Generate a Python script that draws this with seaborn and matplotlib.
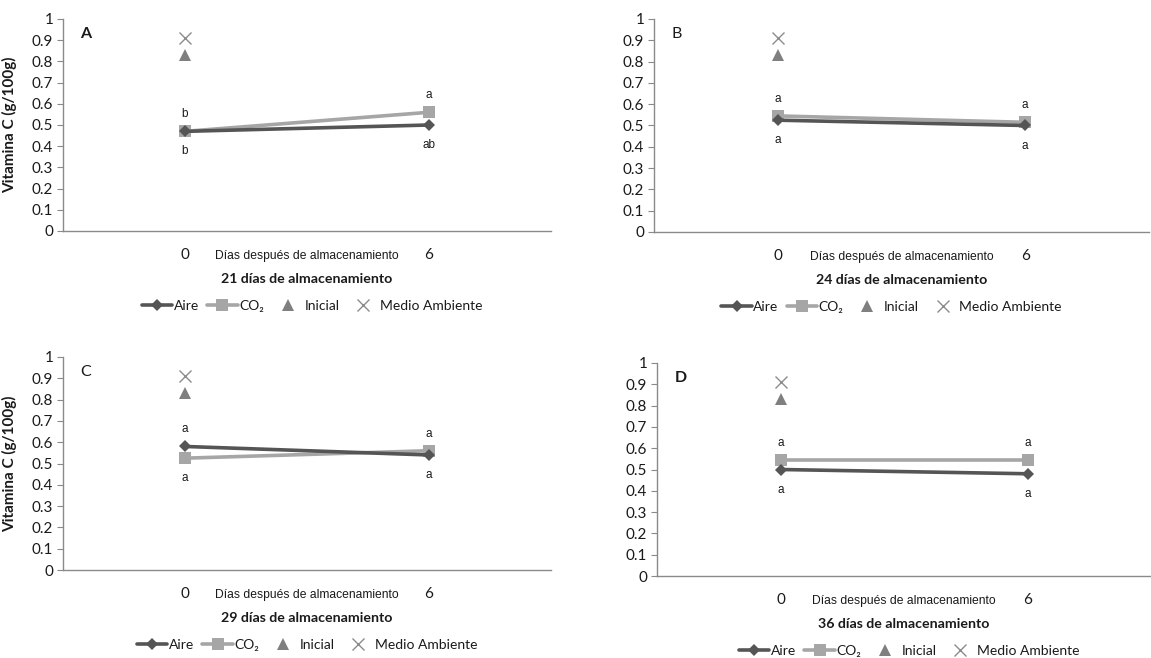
import matplotlib
matplotlib.use("Agg")
import matplotlib.pyplot as plt
from matplotlib.lines import Line2D
import numpy as np
import pandas as pd
import seaborn as sns

# Storage days shown on the categorical x axis
dias = ["0", "6"]

# Vitamin C (g/100g) per panel
paneles = ["A", "B", "C", "D"]
titulos = ["21 días de almacenamiento", "24 días de almacenamiento",
           "29 días de almacenamiento", "36 días de almacenamiento"]
aire = [[0.47, 0.50], [0.525, 0.50], [0.58, 0.54], [0.50, 0.48]]
co2 = [[0.47, 0.56], [0.545, 0.515], [0.525, 0.56], [0.545, 0.545]]
inicial = [0.83, 0.83, 0.83, 0.83]
medio_ambiente = [0.91, 0.91, 0.91, 0.91]

# Significance letters: (upper letter, lower letter) for each day
letras = [
    [("b", "b"), ("a", "ab")],
    [("a", "a"), ("a", "a")],
    [("a", "a"), ("a", "a")],
    [("a", "a"), ("a", "a")],
]

sns.set_style("white")
plt.rcParams["font.family"] = ["Lato", "DejaVu Sans"]

COL_AIRE = "#555555"
COL_CO2 = "#a6a6a6"
COL_INI = "#7f7f7f"
COL_MA = "#8c8c8c"
AXC = "#8a8a8a"
TXT = "#1a1a1a"

fig = plt.figure(figsize=(11.51, 6.58), dpi=100)
W, H = 1151, 658
# axes boxes in pixels: left, top, right, bottom
cajas = [(63, 19, 551, 231), (654, 19, 1149, 232),
         (63, 357, 551, 570), (657, 363, 1151, 576)]
leg_x = [0.51, 0.48, 0.50, 0.51]
negrita = [True, False, False, True]

for i, (l, t, r, b) in enumerate(cajas):
    ax = fig.add_axes([l / W, 1 - b / H, (r - l) / W, (b - t) / H])
    df_aire = pd.DataFrame({"dia": dias, "vitc": aire[i]})
    df_co2 = pd.DataFrame({"dia": dias, "vitc": co2[i]})
    df_ini = pd.DataFrame({"dia": [dias[0]], "vitc": [inicial[i]]})
    df_ma = pd.DataFrame({"dia": [dias[0]], "vitc": [medio_ambiente[i]]})

    sns.pointplot(data=df_aire, x="dia", y="vitc", order=dias, color=COL_AIRE,
                  marker="D", linestyle="-", linewidth=2.6, markersize=6.5,
                  markeredgewidth=0, errorbar=None, ax=ax, zorder=4)
    sns.pointplot(data=df_co2, x="dia", y="vitc", order=dias, color=COL_CO2,
                  marker="s", linestyle="-", linewidth=2.6, markersize=9,
                  markeredgewidth=0, errorbar=None, ax=ax, zorder=3)
    sns.pointplot(data=df_ini, x="dia", y="vitc", order=dias, color=COL_INI,
                  marker="^", linestyle="none", markersize=9,
                  markeredgewidth=0, errorbar=None, ax=ax)
    sns.pointplot(data=df_ma, x="dia", y="vitc", order=dias, color=COL_MA,
                  marker="x", linestyle="none", markersize=9,
                  markeredgewidth=1.0, errorbar=None, ax=ax)

    # significance letters above the upper point and below the lower point
    for j in range(len(dias)):
        hi = max(aire[i][j], co2[i][j])
        lo = min(aire[i][j], co2[i][j])
        up, down = letras[i][j]
        ax.text(j, hi + 0.08, up, ha="center", va="center", fontsize=8.5,
                family="Liberation Sans", color=TXT)
        ax.text(j, lo - 0.095, down, ha="center", va="center", fontsize=8.5,
                family="Liberation Sans", color=TXT)

    ax.set_xlim(-0.5, 1.5)
    ax.set_ylim(0, 1)
    ax.set_yticks(np.arange(0, 1.01, 0.1))
    ax.set_yticklabels(["0"] + [f"{v:.1f}" for v in np.arange(0.1, 0.95, 0.1)] + ["1"])
    ax.set_xticks([0, 1])
    ax.set_xticklabels(dias)
    ax.set_xticks([-0.5, 0.5, 1.5], minor=True)
    ax.tick_params(axis="x", which="major", length=0, pad=12, labelsize=11,
                   labelcolor=TXT)
    ax.tick_params(axis="x", which="minor", length=5, color=AXC, direction="out")
    ax.tick_params(axis="y", length=4, color=AXC, direction="out", labelsize=11,
                   labelcolor=TXT, left=True, pad=3)
    for s in ["top", "right"]:
        ax.spines[s].set_visible(False)
    for s in ["left", "bottom"]:
        ax.spines[s].set_color(AXC)
        ax.spines[s].set_linewidth(1.0)

    ax.set_xlabel("")
    if i in (0, 2):
        ax.set_ylabel("Vitamina C (g/100g)", fontsize=11, fontweight="bold",
                      color=TXT)
        ax.yaxis.set_label_coords(-46 / (r - l), 0.5)
    else:
        ax.set_ylabel("")

    ax.text(0.035, 0.93, paneles[i], transform=ax.transAxes, fontsize=11.5,
            fontweight="bold" if negrita[i] else "normal", color=TXT,
            ha="left", va="center")

    ax.annotate("Días después de almacenamiento", xy=(0.5, 0), xycoords="axes fraction",
                xytext=(0, -18), textcoords="offset points", ha="center", va="center",
                fontsize=8.7, family="Liberation Sans", color=TXT)
    ax.annotate(titulos[i], xy=(0.5, 0), xycoords="axes fraction",
                xytext=(0, -34.5), textcoords="offset points", ha="center",
                va="center", fontsize=10.2, fontweight="bold", color=TXT)

    handles = [
        Line2D([], [], color=COL_AIRE, marker="D", lw=2.6, ms=6.5, mew=0),
        Line2D([], [], color=COL_CO2, marker="s", lw=2.6, ms=9, mew=0),
        Line2D([], [], color=COL_INI, marker="^", lw=0, ms=9, mew=0),
        Line2D([], [], color=COL_MA, marker="x", lw=0, ms=9, mew=1.0),
    ]
    etiquetas = ["Aire", "CO\u2082", "Inicial", "Medio Ambiente"]
    ax.legend(handles, etiquetas, loc="center", bbox_to_anchor=(leg_x[i], -75 / (b - t)),
              ncol=4, frameon=False, fontsize=10, handlelength=2.2,
              handletextpad=0.1, columnspacing=0.6, borderaxespad=0,
              labelcolor=TXT)

fig.savefig("out.png", dpi=100)
